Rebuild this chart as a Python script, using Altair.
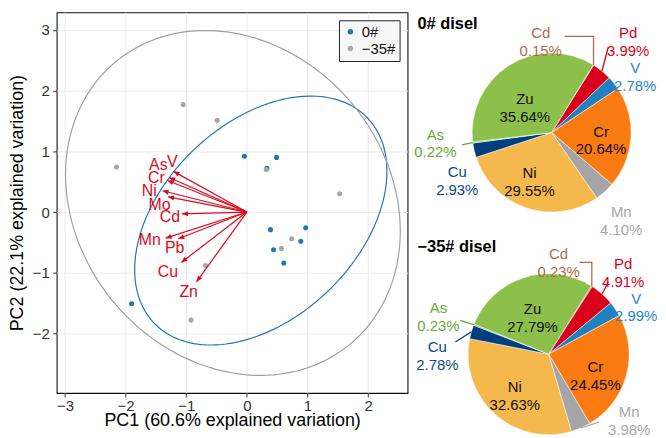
import altair as alt
import numpy as np
import pandas as pd

FONT = "Liberation Sans"
RED = "#dc0a1e"
BLUE = "#1f78b4"
GRAY = "#a6a6a6"

# ---------------- PCA biplot data ----------------
groups = ["0#", "−35#"]
g0_x = [-0.04, 0.49, 0.33, 0.39, 0.97, 0.44, 0.89, 0.61, -1.90]
g0_y = [0.92, 0.90, 0.72, -0.29, -0.26, -0.62, -0.48, -0.84, -1.51]
g35_x = [-1.05, -0.49, -2.15, 0.32, 1.53, 0.74, 0.57, -0.68, -0.92]
g35_y = [1.77, 1.51, 0.74, 0.70, 0.30, -0.44, -0.60, -0.88, -1.78]

variables = ["V", "As", "Cr", "Ni", "Mo", "Cd", "Mn", "Pb", "Cu", "Zn"]
loading_x = [-1.21, -1.28, -1.31, -1.39, -1.30, -1.07, -1.34, -1.13, -1.08, -0.83]
loading_y = [0.67, 0.57, 0.52, 0.35, 0.25, -0.03, -0.43, -0.44, -0.83, -1.15]
varlabel_x = [-1.23, -1.46, -1.49, -1.61, -1.44, -1.27, -1.60, -1.19, -1.30, -0.96]
varlabel_y = [0.83, 0.78, 0.56, 0.34, 0.12, -0.09, -0.46, -0.60, -0.98, -1.32]

# ellipse parameters per group (centre, half-extents, y-offset at x-extreme)
ell_cx = [0.23, -0.23]
ell_cy = [-0.14, 0.15]
ell_hx = [2.08, 2.76]
ell_hy = [2.05, 2.84]
ell_dy = [0.81, -0.465]

# ---------------- Pie data ----------------
elements = ["Cd", "Pd", "V", "Cr", "Mn", "Ni", "Cu", "As", "Zu"]
pie0_values = [0.15, 3.99, 2.78, 20.64, 4.10, 29.55, 2.93, 0.22, 35.64]
pie35_values = [0.23, 4.91, 2.99, 24.45, 3.98, 32.63, 2.78, 0.23, 27.79]
pie_titles = ["0# disel", "−35# disel"]

slice_colors = ["#b0694a", "#d9001b", "#2081c0", "#fb7b13", "#a5a5a5",
                "#f5b84c", "#003f7e", "#70ad47", "#8cc04b"]
label_colors = {"Cd": "#b5694a", "Pd": "#d9001b", "V": "#2a86c2", "Cr": "#111111",
                "Mn": "#a8a8a8", "Ni": "#111111", "Cu": "#0b4a88", "As": "#6aa93c",
                "Zu": "#111111"}

# ---------------- Biplot ----------------
pts = pd.DataFrame({
    "PC1": g0_x + g35_x,
    "PC2": g0_y + g35_y,
    "group": [groups[0]] * len(g0_x) + [groups[1]] * len(g35_x),
})


def ellipse_df(gi):
    t = np.linspace(0, 2 * np.pi, 181)
    b = np.sqrt(ell_hy[gi] ** 2 - ell_dy[gi] ** 2)
    return pd.DataFrame({
        "k": np.arange(len(t)),
        "PC1": ell_cx[gi] + ell_hx[gi] * np.cos(t),
        "PC2": ell_cy[gi] + ell_dy[gi] * np.cos(t) + b * np.sin(t),
    })


arr = pd.DataFrame({
    "var": variables, "x0": 0.0, "y0": 0.0,
    "PC1": loading_x, "PC2": loading_y,
    "lx": varlabel_x, "ly": varlabel_y,
})
arr["ang"] = (np.degrees(np.arctan2(arr["PC1"], arr["PC2"])) + 360) % 360

xs = alt.Scale(domain=[-3.136, 2.65], nice=False, zero=False)
ys = alt.Scale(domain=[-2.98, 3.29], nice=False, zero=False)
gscale = alt.Scale(domain=groups, range=[BLUE, GRAY])

xaxis = alt.Axis(values=[-3, -2, -1, 0, 1, 2], format="d", title="PC1 (60.6% explained variation)",
                 titleFontSize=18, titleFontWeight="normal", titleColor="#000", titleFont=FONT,
                 labelFontSize=15, labelColor="#333", labelFont=FONT, tickColor="#333",
                 tickSize=4, labelPadding=2, titlePadding=3, minExtent=16, maxExtent=16,
                 domain=False, grid=True, gridColor="#ebebeb")
yaxis = alt.Axis(values=[-2, -1, 0, 1, 2, 3], format="d", title="PC2 (22.1% explained variation)",
                 titleFontSize=18, titleFontWeight="normal", titleColor="#000", titleFont=FONT,
                 labelFontSize=15, labelColor="#333", labelFont=FONT, tickColor="#333",
                 tickSize=4, labelPadding=3.5, titlePadding=5, minExtent=25, maxExtent=25,
                 domain=False, grid=True, gridColor="#ebebeb")

ell_layers = [
    alt.Chart(ellipse_df(gi)).mark_line(strokeWidth=1.2, color=col).encode(
        x=alt.X("PC1:Q", scale=xs, axis=xaxis),
        y=alt.Y("PC2:Q", scale=ys, axis=yaxis),
        order=alt.Order("k:Q"),
    )
    for gi, col in enumerate([BLUE, "#a0a0a0"])
]
pt_layer = alt.Chart(pts).mark_circle(size=26, opacity=1).encode(
    x=alt.X("PC1:Q", scale=xs, axis=xaxis),
    y=alt.Y("PC2:Q", scale=ys, axis=yaxis),
    color=alt.Color("group:N", scale=gscale, sort=groups,
                    legend=alt.Legend(title=None, orient="top-right", offset=8,
                                      strokeColor="#222", fillColor="#f7f7f7", padding=4,
                                      labelFontSize=15, labelFont=FONT, labelColor="#111",
                                      symbolSize=30, symbolType="circle", rowPadding=1,
                                      labelOffset=4)),
)
rule_layer = alt.Chart(arr).mark_rule(color=RED, strokeWidth=1.2).encode(
    x=alt.X("x0:Q", scale=xs, axis=xaxis), y=alt.Y("y0:Q", scale=ys, axis=yaxis),
    x2="PC1:Q", y2="PC2:Q",
)
ARROW = "M0,0L-0.42,1L0.42,1Z"
head_layer = alt.Chart(arr).mark_point(shape=ARROW, filled=True, color=RED, size=144, opacity=1).encode(
    x=alt.X("PC1:Q", scale=xs, axis=xaxis), y=alt.Y("PC2:Q", scale=ys, axis=yaxis),
    angle=alt.Angle("ang:Q", scale=None),
)
lab_layer = alt.Chart(arr).mark_text(color=RED, fontSize=16, font=FONT, baseline="middle").encode(
    x=alt.X("lx:Q", scale=xs, axis=xaxis), y=alt.Y("ly:Q", scale=ys, axis=yaxis),
    text="var:N",
)
biplot = alt.layer(*ell_layers, pt_layer, rule_layer, head_layer, lab_layer).properties(
    width=353, height=383, view=alt.ViewBackground(stroke="#111", strokeWidth=1.1)
)

# ---------------- Pies ----------------
COL_LEFT, COL_RIGHT = 411, 658
# frame: centre x, centre y, radius, view top, view height (page pixels)
frames = [(552, 131, 80, 10, 221), (549, 354, 81, 231, 199)]
starts = [31.5, 32.0]
# label positions in radius units relative to pie centre
label_pos = [
    {"Cd": (-0.1375, 1.256), "Pd": (0.9625, 1.256), "V": (1.05, 0.8125), "Cr": (0.621, 0.0125),
     "Mn": (0.875, -1.0), "Ni": (-0.279, -0.509), "Cu": (-1.1875, -0.5), "As": (-1.4625, -0.025),
     "Zu": (-0.3375, 0.425)},
    {"Cd": (0.1235, 1.247), "Pd": (0.926, 1.123), "V": (1.086, 0.691), "Cr": (0.580, -0.157),
     "Mn": (1.0, -0.716), "Ni": (-0.420, -0.404), "Cu": (-1.383, 0.0864), "As": (-1.370, 0.568),
     "Zu": (-0.201, 0.564)},
]
# leader lines: ("elbow", y_level, x_end) or ("line", x_end, y_end)
leaders = [
    {"Cd": ("elbow", 1.209, 0.1625), "Pd": ("line", 0.7125, 1.075), "As": ("line", -1.129, -0.154)},
    {"Cd": ("elbow", 1.140, 0.383), "Pd": ("line", 0.741, 0.901), "Mn": ("line", 0.630, -0.84),
     "Cu": ("line", -1.160, 0.152), "As": ("line", -1.099, 0.420)},
]
title_pos = [(-1.6875, 1.3625), (-1.6296, 1.333)]

cscale = alt.Scale(domain=elements, range=slice_colors)


def make_pie(idx, values):
    cx, cy, R, top, H = frames[idx]
    pxs = alt.Scale(domain=[(COL_LEFT - cx) / R, (COL_RIGHT - cx) / R], nice=False, zero=False)
    pys = alt.Scale(domain=[-(top + H - cy) / R, (cy - top) / R], nice=False, zero=False)
    start = np.deg2rad(starts[idx])
    vals = np.array(values)
    cum = np.concatenate([[0], np.cumsum(vals)[:-1]])
    mid = start + 2 * np.pi * (cum + vals / 2) / vals.sum()

    df = pd.DataFrame({"elem": elements, "value": values, "order": list(range(len(elements)))})
    df["label"] = [f"{e}\n{v:.2f}%" for e, v in zip(elements, values)]
    df["lx"] = [label_pos[idx][e][0] for e in elements]
    df["ly"] = [label_pos[idx][e][1] for e in elements]
    df["lcol"] = [label_colors[e] for e in elements]

    lrows = []
    for e, spec in leaders[idx].items():
        i = elements.index(e)
        ex, ey = np.sin(mid[i]), np.cos(mid[i])
        lrows.append({"elem": e, "k": 0, "x": ex, "y": ey, "lcol": label_colors[e]})
        if spec[0] == "elbow":
            lrows.append({"elem": e, "k": 1, "x": ex, "y": spec[1], "lcol": label_colors[e]})
            lrows.append({"elem": e, "k": 2, "x": spec[2], "y": spec[1], "lcol": label_colors[e]})
        else:
            lrows.append({"elem": e, "k": 1, "x": spec[1], "y": spec[2], "lcol": label_colors[e]})
    ldf = pd.DataFrame(lrows)
    tdf = pd.DataFrame({"x": [title_pos[idx][0]], "y": [title_pos[idx][1]], "t": [pie_titles[idx]]})

    arc = alt.Chart(df).mark_arc(outerRadius=R, stroke="white", strokeWidth=0.5).encode(
        theta=alt.Theta("value:Q", stack=True, scale=alt.Scale(range=[start, start + 2 * np.pi])),
        order=alt.Order("order:Q"),
        color=alt.Color("elem:N", scale=cscale, legend=None),
        x=alt.XDatum(0, type="quantitative", scale=pxs, axis=None),
        y=alt.YDatum(0, type="quantitative", scale=pys, axis=None),
    )
    lines = alt.Chart(ldf).mark_line(strokeWidth=1.3).encode(
        x=alt.X("x:Q", scale=pxs, axis=None),
        y=alt.Y("y:Q", scale=pys, axis=None),
        detail="elem:N",
        order=alt.Order("k:Q"),
        stroke=alt.Stroke("lcol:N", scale=None),
    )
    texts = alt.Chart(df).mark_text(fontSize=15, font=FONT, lineBreak="\n", lineHeight=18,
                                    baseline="middle", align="center").encode(
        x=alt.X("lx:Q", scale=pxs, axis=None),
        y=alt.Y("ly:Q", scale=pys, axis=None),
        text="label:N",
        fill=alt.Fill("lcol:N", scale=None),
    )
    title = alt.Chart(tdf).mark_text(fontSize=16.5, font=FONT, fontWeight="bold", align="left",
                                     baseline="middle", color="#000").encode(
        x=alt.X("x:Q", scale=pxs, axis=None),
        y=alt.Y("y:Q", scale=pys, axis=None),
        text="t:N",
    )
    return alt.layer(arc, lines, texts, title).properties(
        width=COL_RIGHT - COL_LEFT, height=H,
        view=alt.ViewBackground(stroke="transparent"))


pie1 = make_pie(0, pie0_values)
pie2 = make_pie(1, pie35_values)

chart = alt.hconcat(
    biplot,
    alt.vconcat(pie1, pie2, spacing=0, bounds="flush"),
    spacing=2,
).resolve_scale(color="independent").properties(
    padding={"left": 0, "top": 2, "right": 0, "bottom": 0}
).configure(font=FONT, background="white").configure_view(stroke="transparent")

chart.save("out.html", embed_options={"renderer": "svg", "actions": False})
